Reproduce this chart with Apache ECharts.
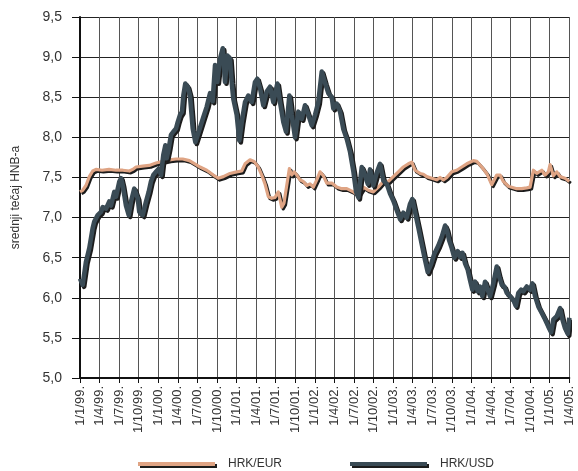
<!DOCTYPE html>
<html>
<head>
<meta charset="utf-8">
<script src="https://cdn.jsdelivr.net/npm/echarts@6/dist/echarts.min.js"></script>
<style>
html,body{margin:0;padding:0;background:#fff;}
#chart{width:578px;height:471px;}
</style>
</head>
<body>
<div id="chart"></div>
<script>
// x positions are months since 1 Jan 1999 (quarter ticks every 3 months)
const X_TICK_LABELS = ['1/1/99.','1/4/99.','1/7/99.','1/10/99.','1/1/00.','1/4/00.','1/7/00.','1/10/00.',
  '1/1/01.','1/4/01.','1/7/01.','1/10/01.','1/1/02.','1/4/02.','1/7/02.','1/10/02.',
  '1/1/03.','1/4/03.','1/7/03.','1/10/03.','1/1/04.','1/4/04.','1/7/04.','1/10/04.','1/1/05.','1/4/05.'];
const Y_TICK_LABELS = ['5,0','5,5','6,0','6,5','7,0','7,5','8,0','8,5','9,0','9,5'];
const SERIES_NAMES = ['HRK/EUR','HRK/USD'];

const EUR_MONTHS = [0,0.41,0.92,1.43,1.95,2.45,3.37,4.45,5.52,6.55,7.56,8.08,8.59,9.61,10.62,11.65,12.68,13.69,14.72,15.74,16.76,17.78,18.4,19.42,20.44,21.2,21.97,22.99,24.02,24.79,25.3,26.06,26.68,27.33,27.86,28.36,28.87,29.39,29.89,30.4,30.92,31.27,31.69,32.09,32.45,32.81,33.22,33.73,34.23,34.75,35.26,35.77,36.29,36.79,37.06,37.3,37.82,38.59,39.35,40.12,40.89,41.9,42.67,43.43,44.19,44.96,45.73,46.5,47.27,48.03,48.8,49.56,50.33,50.85,51.36,52.12,52.63,53.15,53.92,54.68,55.19,55.7,56.22,56.98,57.75,58.52,59.28,59.79,60.3,60.82,61.58,62.35,63.11,63.88,64.39,64.89,65.66,66.95,67.71,68.48,68.99,69.49,70.01,70.78,71.29,71.79,72.05,72.56,73.08,73.59,74.35,75];
const EUR_VALUES = [7.32,7.34,7.4,7.51,7.58,7.6,7.59,7.6,7.59,7.59,7.58,7.6,7.63,7.64,7.65,7.68,7.7,7.72,7.73,7.73,7.71,7.66,7.63,7.59,7.53,7.49,7.51,7.55,7.57,7.58,7.67,7.72,7.7,7.63,7.53,7.42,7.26,7.24,7.25,7.32,7.13,7.18,7.4,7.61,7.53,7.57,7.53,7.47,7.45,7.4,7.42,7.38,7.47,7.57,7.57,7.52,7.43,7.43,7.38,7.36,7.36,7.32,7.28,7.38,7.34,7.32,7.38,7.45,7.45,7.51,7.57,7.63,7.67,7.69,7.59,7.55,7.54,7.51,7.49,7.47,7.5,7.47,7.5,7.57,7.59,7.63,7.67,7.69,7.71,7.7,7.63,7.55,7.41,7.53,7.53,7.45,7.39,7.36,7.36,7.37,7.38,7.59,7.55,7.59,7.53,7.57,7.66,7.52,7.57,7.51,7.49,7.45];

const USD_MONTHS = [0,0.41,0.92,1.43,1.95,2.19,2.71,3.22,3.48,3.99,4.49,4.75,5.26,5.52,6.03,6.29,6.55,7.05,7.47,7.82,8.32,8.85,9.09,9.61,10.12,10.53,10.88,11.24,11.65,12.07,12.42,12.77,13.08,13.29,13.6,13.95,14.3,14.72,14.98,15.33,15.64,15.84,16.14,16.51,16.86,17.28,17.68,18.2,18.4,18.9,19.42,19.93,20.34,20.7,21.05,21.46,21.88,22.23,22.58,22.99,23.25,23.5,24.02,24.42,24.79,25.3,25.8,26.32,26.83,27.18,27.6,28.1,28.62,29.13,29.63,30.25,30.66,31.17,31.58,32.09,32.45,32.96,33.47,33.99,34.49,35.0,35.52,36.03,36.53,37.06,37.56,38.07,38.59,38.83,39.35,39.86,40.37,40.89,41.39,41.9,42.32,42.67,43.19,43.59,44.11,44.46,44.96,45.49,45.99,46.5,47.02,47.52,48.03,48.55,49.06,49.56,50.08,50.59,50.94,51.36,51.86,52.38,52.89,53.3,53.81,54.32,54.93,55.45,55.96,56.22,56.57,56.98,57.38,57.9,58.26,58.61,59.02,59.43,59.79,60.14,60.55,60.97,61.32,61.67,62.09,62.5,62.85,63.36,63.88,64.23,64.65,65.05,65.42,65.92,66.43,66.8,67.19,67.61,67.96,68.48,68.99,69.34,69.75,70.26,70.78,71.29,71.79,72.21,72.56,73.08,73.59,73.94,74.35,74.76,74.96,75];
const USD_VALUES = [6.24,6.16,6.45,6.62,6.87,6.95,7.03,7.07,7.13,7.11,7.2,7.15,7.32,7.26,7.45,7.49,7.4,7.15,7.03,7.2,7.36,7.24,7.07,7.03,7.2,7.32,7.45,7.53,7.57,7.61,7.53,7.78,7.9,7.74,7.86,8.03,8.07,8.11,8.19,8.28,8.32,8.52,8.67,8.63,8.52,8.11,7.94,8.07,8.05,8.25,8.38,8.55,8.45,8.9,8.69,8.98,9.11,8.69,9.02,8.98,8.69,8.48,8.28,7.96,8.19,8.44,8.52,8.44,8.69,8.73,8.61,8.4,8.57,8.63,8.44,8.67,8.44,8.19,8.07,8.52,8.28,8.0,8.32,8.23,8.4,8.28,8.15,8.28,8.44,8.82,8.68,8.55,8.5,8.36,8.42,8.32,8.1,7.98,7.82,7.58,7.32,7.25,7.63,7.55,7.42,7.6,7.4,7.56,7.67,7.46,7.42,7.3,7.21,7.09,6.98,7.06,7.0,7.17,7.23,7.07,6.88,6.67,6.47,6.32,6.42,6.55,6.65,6.76,6.9,6.85,6.72,6.62,6.5,6.58,6.51,6.56,6.43,6.35,6.22,6.1,6.2,6.08,6.14,6.02,6.2,6.1,6.02,6.18,6.39,6.27,6.16,6.14,6.06,6.02,5.97,5.9,6.06,6.1,6.08,6.14,6.1,6.18,6.02,5.89,5.81,5.73,5.64,5.57,5.73,5.77,5.87,5.73,5.62,5.55,5.72,5.75];

const FONT = "'Liberation Sans',Arial,sans-serif";
const EUR_COLOR = '#dfa484';
const USD_COLOR = '#3a4b55';
const SHADOW = '#1c1c1c';

function pairs(xs, ys){ return xs.map((x,i)=>[x, ys[i]]); }

const chart = echarts.init(document.getElementById('chart'), null, {renderer:'canvas'});
chart.setOption({
  animation:false,
  backgroundColor:'#ffffff',
  grid:{left:80, right:8.7, top:17, bottom:93, containLabel:false},
  xAxis:{
    type:'value', min:0, max:75, interval:3,
    axisLine:{show:true, onZero:false, lineStyle:{color:'#111', width:2}},
    axisTick:{show:true, length:5, lineStyle:{color:'#111', width:1}},
    splitLine:{show:true, lineStyle:{color:'#555', width:1}},
    axisLabel:{
      rotate:90, margin:8, color:'#333', fontFamily:FONT, fontSize:13,
      formatter:function(v){ return X_TICK_LABELS[Math.round(v/3)] || ''; }
    }
  },
  yAxis:{
    type:'value', min:5, max:9.5, interval:0.5,
    name:'srednji tečaj HNB-a', nameLocation:'middle', nameRotate:90, nameGap:58,
    nameTextStyle:{color:'#333', fontFamily:FONT, fontSize:12},
    axisLine:{show:true, lineStyle:{color:'#111', width:2}},
    axisTick:{show:true, length:8, lineStyle:{color:'#111', width:1}},
    splitLine:{show:true, lineStyle:{color:'#222', width:1}},
    axisLabel:{
      margin:18, color:'#333', fontFamily:FONT, fontSize:14,
      formatter:function(v){ return Y_TICK_LABELS[Math.round((v-5)/0.5)] || ''; }
    }
  },
  legend:[
    {data:[SERIES_NAMES[0]], left:133, top:453, icon:'rect', itemWidth:77, itemHeight:4,
     itemStyle:{shadowColor:SHADOW, shadowOffsetX:2, shadowOffsetY:2, shadowBlur:0},
     textStyle:{color:'#333', fontFamily:FONT, fontSize:12, padding:[0,0,0,8]}},
    {data:[SERIES_NAMES[1]], left:345, top:453, icon:'rect', itemWidth:77, itemHeight:4,
     itemStyle:{shadowColor:SHADOW, shadowOffsetX:2, shadowOffsetY:2, shadowBlur:0},
     textStyle:{color:'#333', fontFamily:FONT, fontSize:12, padding:[0,0,0,8]}}
  ],
  series:[
    {name:SERIES_NAMES[0], type:'line', data:pairs(EUR_MONTHS, EUR_VALUES), symbol:'none',
     itemStyle:{color:EUR_COLOR},
     lineStyle:{color:EUR_COLOR, width:3.2, shadowColor:SHADOW, shadowOffsetX:1.5, shadowOffsetY:1.8, shadowBlur:0, join:'round'}},
    {name:SERIES_NAMES[1], type:'line', data:pairs(USD_MONTHS, USD_VALUES), symbol:'none',
     itemStyle:{color:USD_COLOR},
     lineStyle:{color:USD_COLOR, width:4.6, shadowColor:SHADOW, shadowOffsetX:1.5, shadowOffsetY:1.8, shadowBlur:0, join:'round'}}
  ]
});
</script>
</body>
</html>
